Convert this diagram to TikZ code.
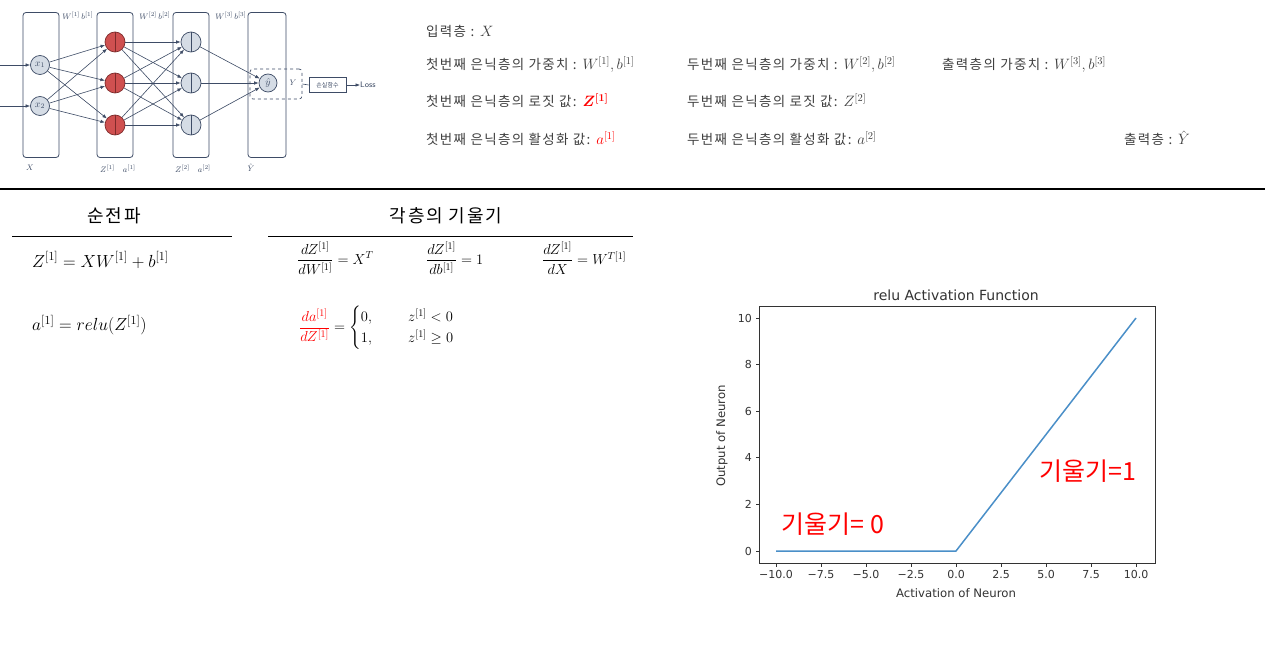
\RequirePackage{fix-cm}
\documentclass[tikz,border=0pt]{standalone}
\usepackage{amsmath,amssymb}
\usepackage{fontspec}
\newfontfamily\kr{Noto Sans CJK KR}
\newfontfamily\krw[LetterSpace=10]{Noto Sans CJK KR}
\newfontfamily\dv{DejaVu Sans}
\usetikzlibrary{arrows.meta}
\definecolor{ln}{HTML}{3E4C66}
\definecolor{nodefill}{HTML}{D5DCE5}
\definecolor{redfill}{HTML}{CF5050}
\definecolor{rededge}{HTML}{7E2A2A}
\definecolor{txt}{HTML}{404040}
\definecolor{plotblue}{HTML}{4A8FC8}
\definecolor{kred}{HTML}{FF0000}
\definecolor{axis}{HTML}{333333}
\tikzset{
  layer/.style={draw=ln, rounded corners=3pt, line width=0.8pt, minimum width=36pt, minimum height=145pt, inner sep=0pt},
  neuron/.style={circle, draw=ln, fill=nodefill, minimum size=19pt, inner sep=0pt, line width=0.7pt, text=ln, font=\fontsize{10}{10}\selectfont},
  rneuron/.style={neuron, fill=redfill, draw=rededge, minimum size=20pt},
  gneuron/.style={neuron, minimum size=20pt},
  conn/.style={draw=ln, line width=0.6pt, -{Latex[length=4.5pt,width=3.5pt]}},
  netlabel/.style={text=ln, font=\fontsize{8}{9}\selectfont, inner sep=0pt},
  info/.style={anchor=base west, text=txt, font=\krw\fontsize{13.5}{15}\selectfont, inner sep=0pt},
  head/.style={font=\krw\fontsize{18}{20}\selectfont, inner sep=0pt},
  eq/.style={anchor=west, font=\fontsize{17.5}{20}\selectfont, inner sep=0pt},
  frac/.style={anchor=west, font=\fontsize{14.5}{17}\selectfont, inner sep=0pt},
  tick/.style={font=\dv\fontsize{11}{12}\selectfont, text=axis, inner sep=0pt},
  axlabel/.style={font=\dv\fontsize{11.7}{13}\selectfont, text=axis, inner sep=0pt},
  ann/.style={anchor=west, text=kred, font=\kr\fontsize{25}{27}\selectfont, inner sep=0pt}
}
\newcommand{\im}[1]{{\fontsize{15}{15}\selectfont$#1$}}
\begin{document}
\begin{tikzpicture}[x=1pt,y=-1pt]
\useasboundingbox[fill=white] (0,0) rectangle (1265,671);

% ---------------- network ----------------
\node[layer] (L0) at (41,85) {};
\node[layer] (L1) at (115,85) {};
\node[layer] (L2) at (191,85) {};
\node[layer, minimum width=38pt] (L3) at (267,85) {};

\node[neuron] (x1) at (40,65) {$x_1$};
\node[neuron] (x2) at (40,106) {$x_2$};
\node[rneuron] (h1) at (115,42) {};
\node[rneuron] (h2) at (115,83) {};
\node[rneuron] (h3) at (115,125) {};
\node[gneuron] (g1) at (191,42) {};
\node[gneuron] (g2) at (191,83) {};
\node[gneuron] (g3) at (191,125) {};
\node[neuron, minimum size=18pt] (yh) at (268,83) {$\hat{y}$};
\foreach \n in {h1,h2,h3} \draw[rededge, line width=0.7pt] (\n.north) -- (\n.south);
\foreach \n in {g1,g2,g3} \draw[ln, line width=0.7pt] (\n.north) -- (\n.south);

\coordinate (in1) at (0,65);
\coordinate (in2) at (0,106);
\draw[conn] (in1) -- (x1);
\draw[conn] (in2) -- (x2);
\foreach \a in {x1,x2} \foreach \b in {h1,h2,h3} \draw[conn] (\a) -- (\b);
\foreach \a in {h1,h2,h3} \foreach \b in {g1,g2,g3} \draw[conn] (\a) -- (\b);
\foreach \a in {g1,g2,g3} \draw[conn] (\a) -- (yh);

\node[draw=ln, dashed, rounded corners=3pt, minimum width=52pt, minimum height=30pt, inner sep=0pt, line width=0.7pt] (yd) at (276,84) {};
\node[netlabel] (ylab) at (293,83) {$Y$};
\node[draw=ln, minimum width=37pt, minimum height=15pt, inner sep=0pt, line width=0.7pt, text=ln, font=\kr\fontsize{6}{7}\selectfont] (lf) at (327.5,85) {손실함수};
\node[anchor=west, inner sep=0pt, text=ln, font=\sffamily\fontsize{8}{9}\selectfont] (loss) at (360,85) {Loss};
\draw[ln, line width=0.6pt] (yd.east) -- (lf.west);
\draw[conn] (lf.east) -- (loss.west);

\node[netlabel] (w1) at (78,16) {$W^{[1]}\,b^{[1]}$};
\node[netlabel] (w2) at (155,16) {$W^{[2]}\,b^{[2]}$};
\node[netlabel] (w3) at (231,16) {$W^{[3]}\,b^{[3]}$};
\node[netlabel] (bx) at (30,168) {$X$};
\node[netlabel] (bz1) at (118,169) {$Z^{[1]}\quad a^{[1]}$};
\node[netlabel] (bz2) at (193,169) {$Z^{[2]}\quad a^{[2]}$};
\node[netlabel] (by) at (251,168) {$\hat{Y}$};

% ---------------- info text ----------------
\node[info] (t1) at (426,37) {입력층 : \im{X}};
\node[info] (t2) at (426,70) {첫번째 은닉층의 가중치 : \im{W^{[1]}, b^{[1]}}};
\node[info] (t3) at (687,70) {두번째 은닉층의 가중치 : \im{W^{[2]}, b^{[2]}}};
\node[info] (t4) at (942,70) {출력층의 가중치 : \im{W^{[3]}, b^{[3]}}};
\node[info] (t5) at (426,107) {첫번째 은닉층의 로짓 값: {\color{kred}\im{\boldsymbol{Z^{[1]}}}}};
\node[info] (t6) at (687,107) {두번째 은닉층의 로짓 값: \im{Z^{[2]}}};
\node[info] (t7) at (426,145) {첫번째 은닉층의 활성화 값: {\color{kred}\im{a^{[1]}}}};
\node[info] (t8) at (687,145) {두번째 은닉층의 활성화 값: \im{a^{[2]}}};
\node[info] (t9) at (1124,145) {출력층 : \im{\hat{Y}}};

\draw[line width=2.5pt] (0,189) -- (1265,189);

% ---------------- formulas ----------------
\node[head] (hf) at (114,216) {순전파};
\node[head] (hg) at (446,216) {각층의 기울기};
\draw[line width=0.8pt] (12,236) -- (232,236);
\draw[line width=0.8pt] (268,236) -- (633,236);

\node[eq] (f1) at (32,260) {$Z^{[1]} = XW^{[1]} + b^{[1]}$};
\node[eq] (f2) at (32,325) {$a^{[1]} = relu(Z^{[1]})$};

\node[frac] (d1) at (297,258) {$\dfrac{dZ^{[1]}}{dW^{[1]}} = X^T$};
\node[frac] (d2) at (426,258) {$\dfrac{dZ^{[1]}}{db^{[1]}} = 1$};
\node[frac] (d3) at (542,258) {$\dfrac{dZ^{[1]}}{dX} = W^{T[1]}$};
\node[frac, font=\fontsize{14.5}{17}\selectfont] (d4) at (299,328) {$\color{kred}\dfrac{da^{[1]}}{dZ^{[1]}}\color{black} = \begin{cases}0, & \hspace{1.5em} z^{[1]} < 0\\ 1, & \hspace{1.5em} z^{[1]} \geq 0\end{cases}$};

% ---------------- plot ----------------
\draw[axis, line width=0.8pt] (759,306) rectangle (1155,563);
\coordinate (pa) at (776,551);
\coordinate (pb) at (956,551);
\coordinate (pc) at (1136,318);
\draw[plotblue, line width=1.5pt, line join=round] (pa) -- (pb) -- (pc);

\foreach \v/\l [count=\i] in {-10/−10.0,-7.5/−7.5,-5/−5.0,-2.5/−2.5,0/0.0,2.5/2.5,5/5.0,7.5/7.5,10/10.0} {
  \draw[axis, line width=0.7pt] ({956+18*(\v)},563) -- ({956+18*(\v)},566.5);
  \node[tick, anchor=north] (xt\i) at ({956+18*(\v)},570) {\l};
}
\foreach \v [count=\i] in {0,2,4,6,8,10} {
  \draw[axis, line width=0.7pt] (759,{551-23.3*\v}) -- (755.5,{551-23.3*\v});
  \node[tick, anchor=east] (yt\i) at (752,{551-23.3*\v}) {\v};
}
\node[axlabel, font=\dv\fontsize{14}{16}\selectfont] (title) at (956,295) {relu Activation Function};
\node[axlabel] (xl) at (956,593) {Activation of Neuron};
\node[axlabel, rotate=90] (yl) at (722,436) {Output of Neuron};

\node[ann] (a0) at (781,524) {기울기=\hspace{6pt}0};
\node[ann] (a1) at (1039,471) {기울기=1};
\end{tikzpicture}
\end{document}
